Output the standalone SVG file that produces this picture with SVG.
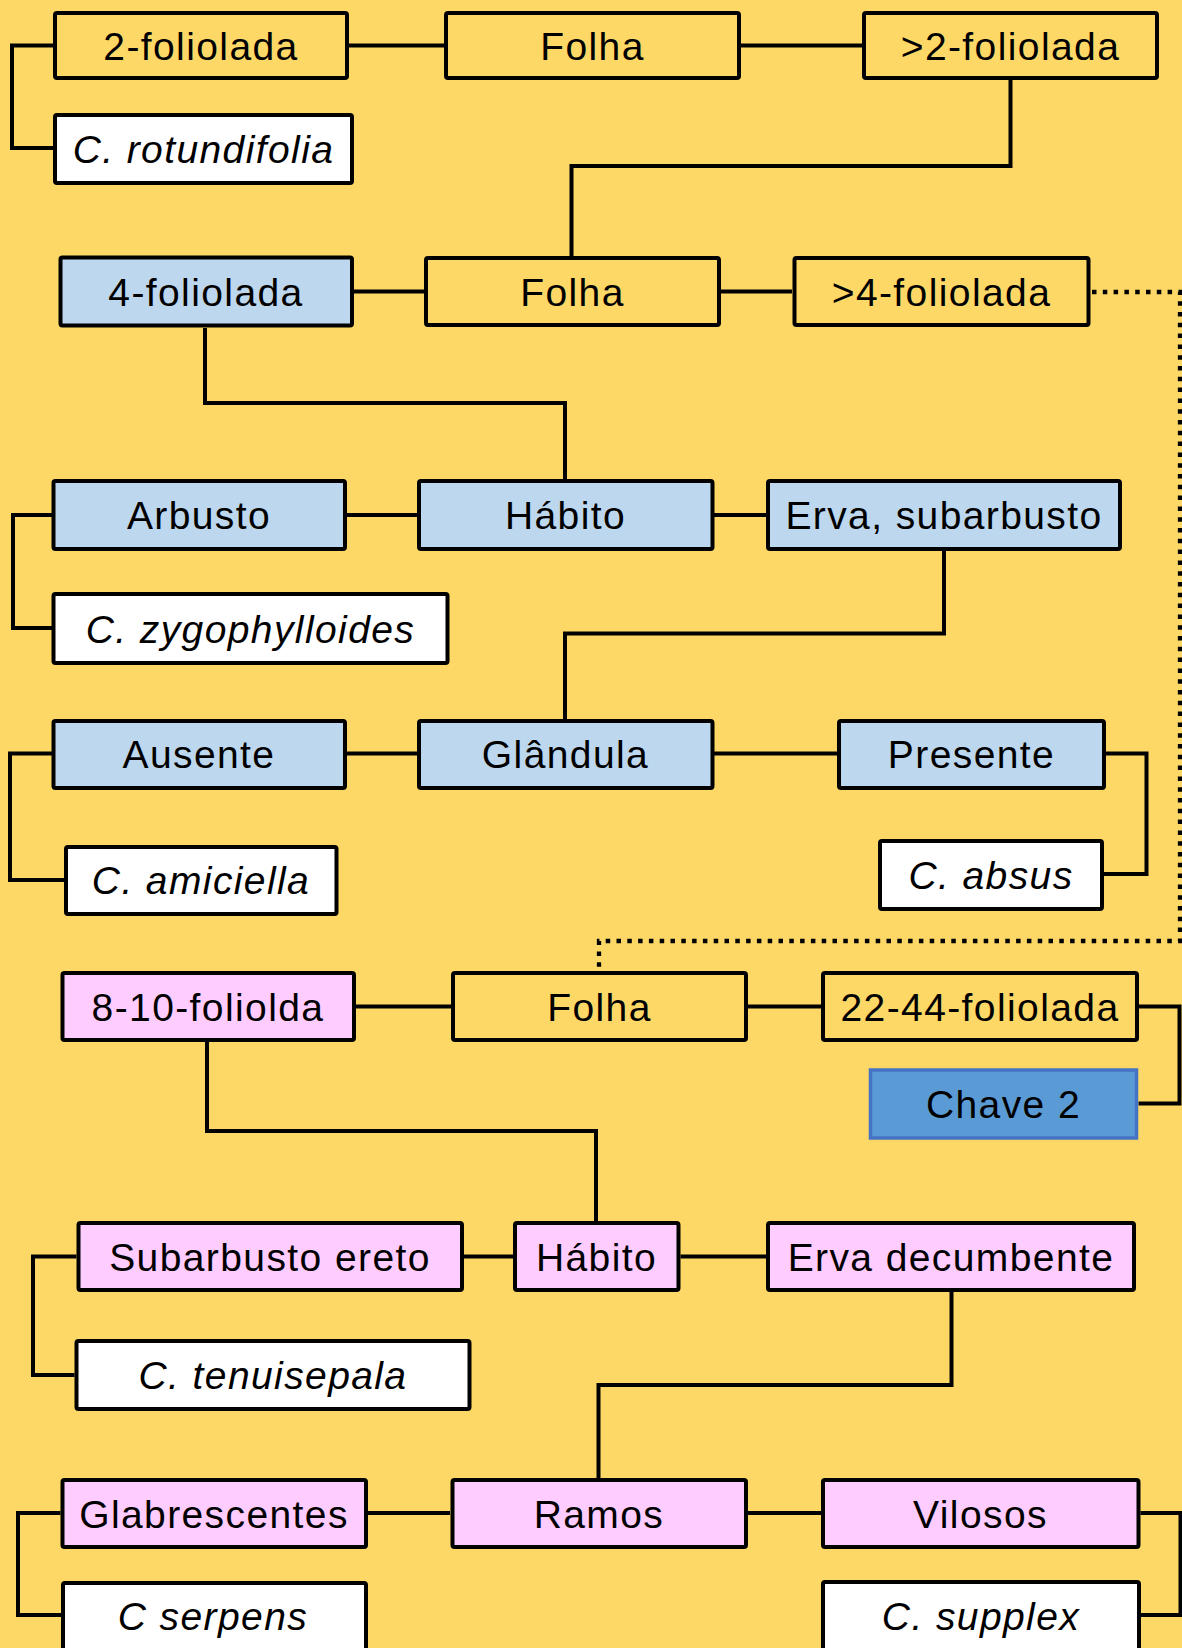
<svg xmlns="http://www.w3.org/2000/svg" width="1182" height="1648" viewBox="0 0 1182 1648">
  <style>
    .box rect { stroke: #000; stroke-width: 4; }
    .y rect { fill: #FDD866; }
    .b rect { fill: #BDD7EE; }
    .p rect { fill: #FFCCFF; }
    .w rect { fill: #FFFFFF; }
    .k rect { fill: #5B9BD5; stroke: #4472C4; stroke-width: 3.5; }
    text { font-family: "Liberation Sans", Arial, sans-serif; font-size: 39px; letter-spacing: 1.4px; text-anchor: middle; fill: #000; }
    .i text { font-style: italic; }
    .ln { fill: none; stroke: #000; stroke-width: 4; stroke-linejoin: miter; }
    .dot { fill: none; stroke: #000; stroke-width: 4.3; stroke-dasharray: 4.5 6.3; }
  </style>
  <rect x="0" y="0" width="1182" height="1648" fill="#FDD866"/>

  <g id="connectors">
    <path class="ln" d="M349 45.5H444"/>
    <path class="ln" d="M741 45.5H862"/>
    <path class="ln" d="M53 45.5H12V148H53"/>
    <path class="ln" d="M1010.5 80V166H571.5V256"/>
    <path class="ln" d="M354 291.5H424"/>
    <path class="ln" d="M721 291.5H792"/>
    <path class="dot" d="M1092 292H1180V941H599V971"/>
    <path class="ln" d="M205 328V403H565V479"/>
    <path class="ln" d="M347 515H417"/>
    <path class="ln" d="M714 515H766"/>
    <path class="ln" d="M52 515H13V628H52"/>
    <path class="ln" d="M944 551V633.5H565V719"/>
    <path class="ln" d="M347 753.5H417"/>
    <path class="ln" d="M714 753.5H837"/>
    <path class="ln" d="M52 753.5H10V880H64"/>
    <path class="ln" d="M1106 753.5H1146.5V874H1104"/>
    <path class="ln" d="M356 1006.5H451"/>
    <path class="ln" d="M748 1006.5H821"/>
    <path class="ln" d="M1139 1006.5H1179.5V1103.5H1138.5"/>
    <path class="ln" d="M207 1042V1131H596V1221"/>
    <path class="ln" d="M464 1256.5H513"/>
    <path class="ln" d="M680.5 1256.5H766"/>
    <path class="ln" d="M76.5 1256.5H33V1375H74.5"/>
    <path class="ln" d="M951.5 1292V1385H598.5V1478"/>
    <path class="ln" d="M368 1513H450"/>
    <path class="ln" d="M748 1513H821"/>
    <path class="ln" d="M60.5 1513H18V1615H61"/>
    <path class="ln" d="M1140.5 1513H1180.5V1615H1141"/>
  </g>

  <!-- node rects use the stroke centre line: outer edge minus 2 -->
  <g id="n-2-foliolada" class="box y"><rect x="55" y="13" width="292" height="65" rx="2"/><text x="201" y="59.5">2-foliolada</text></g>
  <g id="n-folha-1" class="box y"><rect x="446" y="13" width="293" height="65" rx="2"/><text x="592.5" y="59.5">Folha</text></g>
  <g id="n-gt2-foliolada" class="box y"><rect x="864" y="13" width="293" height="65" rx="2"/><text x="1010.5" y="59.5">&gt;2-foliolada</text></g>
  <g id="n-c-rotundifolia" class="box w i"><rect x="55" y="115" width="297" height="68" rx="2"/><text x="203.5" y="163">C. rotundifolia</text></g>

  <g id="n-4-foliolada" class="box b"><rect x="60.5" y="257.5" width="291.5" height="68" rx="2"/><text x="206" y="305.5">4-foliolada</text></g>
  <g id="n-folha-2" class="box y"><rect x="426" y="258" width="293" height="67" rx="2"/><text x="572.5" y="305.5">Folha</text></g>
  <g id="n-gt4-foliolada" class="box y"><rect x="794.5" y="258" width="294" height="67" rx="2"/><text x="941.5" y="305.5">&gt;4-foliolada</text></g>

  <g id="n-arbusto" class="box b"><rect x="53.5" y="481" width="291.5" height="68" rx="2"/><text x="199" y="529">Arbusto</text></g>
  <g id="n-habito-1" class="box b"><rect x="419" y="481" width="293.5" height="68" rx="2"/><text x="565.5" y="529">Hábito</text></g>
  <g id="n-erva-subarbusto" class="box b"><rect x="768" y="481" width="352" height="68" rx="2"/><text x="944" y="529">Erva, subarbusto</text></g>
  <g id="n-c-zygophylloides" class="box w i"><rect x="53.5" y="594" width="394" height="69" rx="2"/><text x="250.5" y="642.5">C. zygophylloides</text></g>

  <g id="n-ausente" class="box b"><rect x="53.5" y="721" width="291.5" height="67" rx="2"/><text x="199" y="768">Ausente</text></g>
  <g id="n-glandula" class="box b"><rect x="419" y="721" width="293.5" height="67" rx="2"/><text x="565.5" y="768">Glândula</text></g>
  <g id="n-presente" class="box b"><rect x="839" y="721" width="265" height="67" rx="2"/><text x="971.5" y="768">Presente</text></g>
  <g id="n-c-amiciella" class="box w i"><rect x="66" y="847" width="270.5" height="67" rx="2"/><text x="201" y="894">C. amiciella</text></g>
  <g id="n-c-absus" class="box w i"><rect x="880" y="841" width="222" height="68" rx="2"/><text x="991" y="889">C. absus</text></g>

  <g id="n-8-10-foliolda" class="box p"><rect x="62.5" y="973" width="291.5" height="67" rx="2"/><text x="208" y="1020.5">8-10-foliolda</text></g>
  <g id="n-folha-3" class="box y"><rect x="453" y="973" width="293" height="67" rx="2"/><text x="599.5" y="1020.5">Folha</text></g>
  <g id="n-22-44-foliolada" class="box y"><rect x="823" y="973" width="314" height="67" rx="2"/><text x="980" y="1020.5">22-44-foliolada</text></g>
  <g id="n-chave-2" class="box k"><rect x="870.5" y="1070" width="266" height="68"/><text x="1003.5" y="1118">Chave 2</text></g>

  <g id="n-subarbusto-ereto" class="box p"><rect x="78.5" y="1223" width="383.5" height="67" rx="2"/><text x="270" y="1270.5">Subarbusto ereto</text></g>
  <g id="n-habito-2" class="box p"><rect x="515" y="1223" width="163.5" height="67" rx="2"/><text x="596.5" y="1270.5">Hábito</text></g>
  <g id="n-erva-decumbente" class="box p"><rect x="768" y="1223" width="366" height="67" rx="2"/><text x="951" y="1270.5">Erva decumbente</text></g>
  <g id="n-c-tenuisepala" class="box w i"><rect x="76.5" y="1341" width="393" height="68" rx="2"/><text x="273" y="1389">C. tenuisepala</text></g>

  <g id="n-glabrescentes" class="box p"><rect x="62.5" y="1480" width="303.5" height="67" rx="2"/><text x="214" y="1527.5">Glabrescentes</text></g>
  <g id="n-ramos" class="box p"><rect x="452.5" y="1480" width="293.5" height="67" rx="2"/><text x="599" y="1527.5">Ramos</text></g>
  <g id="n-vilosos" class="box p"><rect x="823" y="1480" width="315.5" height="67" rx="2"/><text x="980.5" y="1527.5">Vilosos</text></g>
  <g id="n-c-serpens" class="box w i"><rect x="63" y="1583" width="303" height="80" rx="2"/><text x="213" y="1630">C serpens</text></g>
  <g id="n-c-supplex" class="box w i"><rect x="823" y="1582" width="316" height="80" rx="2"/><text x="981" y="1630">C. supplex</text></g>
</svg>
